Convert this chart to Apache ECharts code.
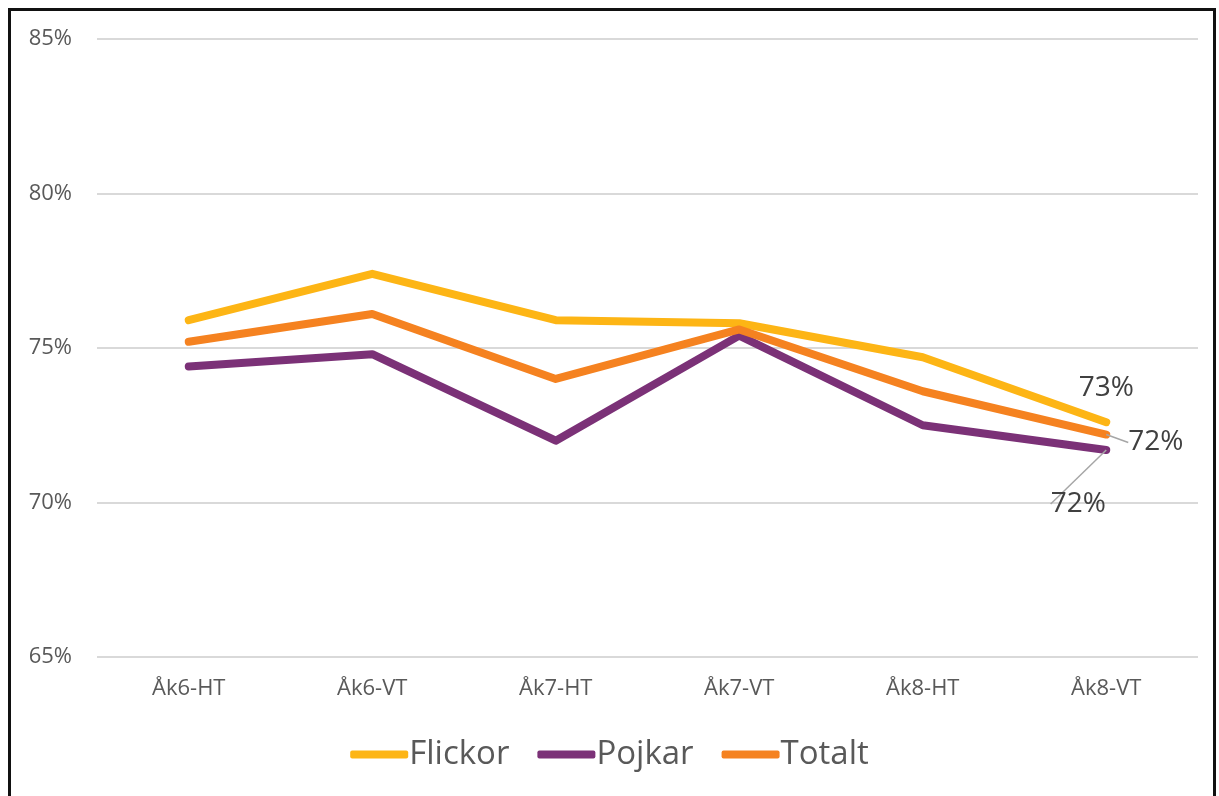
<!DOCTYPE html>
<html>
<head>
<meta charset="utf-8">
<script src="https://cdn.jsdelivr.net/npm/echarts@6/dist/echarts.min.js"></script>
<style>
  html, body { margin: 0; padding: 0; background: #fff; }
  #main { width: 1219px; height: 796px; }
  #frame { position: absolute; left: 8px; top: 8px; width: 1202px; height: 800px; border: 3px solid #111; pointer-events: none; }
</style>
</head>
<body>
<div id="main"></div>
<div id="frame"></div>
<script>
// kategorier och värden (%)
var categories = ['Åk6-HT', 'Åk6-VT', 'Åk7-HT', 'Åk7-VT', 'Åk8-HT', 'Åk8-VT'];
var flickor = [75.9, 77.4, 75.9, 75.8, 74.7, 72.6];
var pojkar = [74.4, 74.8, 72.0, 75.4, 72.5, 71.7];
var totalt = [75.2, 76.1, 74.0, 75.6, 73.6, 72.2];

var colors = ['#FDB515', '#7B3177', '#F58220'];
var font = '"Open Sans", "Noto Sans", sans-serif';

// etikett bara på sista punkten
function withLastLabel(arr, label) {
	return arr.map(function (v, i) {
		if (i !== arr.length - 1) return v;
		return { value: v, label: label };
	});
}
var lbl = {
	show: true,
	fontFamily: font,
	fontSize: 28,
	color: '#404040',
	formatter: function (p) { return Math.round(p.value) + '%'; }
};
var leader = { show: true, lineStyle: { color: '#a6a6a6', width: 1.5 } };

var myChart = echarts.init(document.getElementById('main'));
var option = {
	color: colors,
	animation: false,
	grid: { left: 97, right: 21, top: 39, bottom: 139 },
	legend: {
		bottom: 20,
		left: 'center',
		itemWidth: 58,
		itemHeight: 8,
		itemGap: 28,
		icon: 'roundRect',
		textStyle: { fontFamily: font, fontSize: 33, color: '#595959', padding: [0, 0, 0, -4] },
		data: ['Flickor', 'Pojkar', 'Totalt']
	},
	xAxis: {
		type: 'category',
		data: categories,
		axisLine: { show: false },
		axisTick: { show: false },
		axisLabel: { fontFamily: font, fontSize: 22, color: '#595959', margin: 21 }
	},
	yAxis: {
		type: 'value',
		min: 65,
		max: 85,
		interval: 5,
		axisLine: { show: false },
		axisTick: { show: false },
		axisLabel: { fontFamily: font, fontSize: 22, color: '#595959', margin: 25, formatter: '{value}%' },
		splitLine: { lineStyle: { color: '#d9d9d9', width: 2 } }
	},
	series: [
		{
			name: 'Flickor', type: 'line', symbol: 'circle', symbolSize: 0,
			lineStyle: { width: 8, cap: 'round', join: 'round' },
			data: withLastLabel(flickor, Object.assign({}, lbl, { position: 'top', distance: 20 }))
		},
		{
			name: 'Pojkar', type: 'line', symbol: 'circle', symbolSize: 0,
			lineStyle: { width: 8, cap: 'round', join: 'round' },
			labelLine: leader,
			labelLayout: function (p) { return p.dataIndex === 5 ? { dx: -28, dy: 36 } : {}; },
			data: withLastLabel(pojkar, Object.assign({}, lbl, { position: 'bottom', distance: 4 }))
		},
		{
			name: 'Totalt', type: 'line', symbol: 'circle', symbolSize: 0, z: 3,
			lineStyle: { width: 8, cap: 'round', join: 'round' },
			labelLine: leader,
			labelLayout: function (p) { return p.dataIndex === 5 ? { dx: 18, dy: 8 } : {}; },
			data: withLastLabel(totalt, Object.assign({}, lbl, { position: 'right', distance: 4 }))
		}
	]
};
myChart.setOption(option);
</script>
</body>
</html>
